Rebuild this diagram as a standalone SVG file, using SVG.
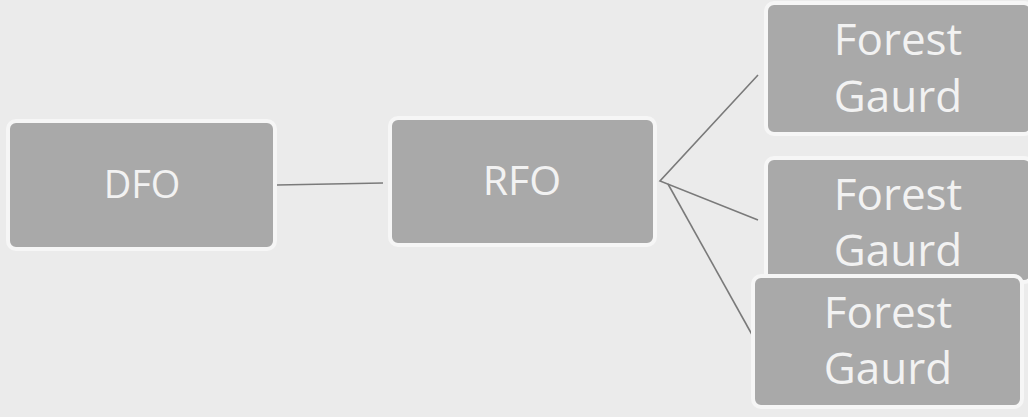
<svg xmlns="http://www.w3.org/2000/svg" width="1028" height="417" viewBox="0 0 1028 417">
<style>
.bg{fill:#ebebeb}
.box{fill:#a9a9a9;stroke:#f6f6f6;stroke-width:4}
.t{font-family:"Open Sans","Noto Sans",sans-serif;fill:#f2f2f2;text-anchor:middle}
.c{stroke:#7a7a7a;stroke-width:1.6;fill:none}
</style>
<rect class="bg" x="0" y="0" width="1028" height="417"/>
<g id="connectors">
<line class="c" x1="277" y1="185" x2="383" y2="183"/>
<polyline class="c" points="758,75 660,181 758,220"/>
<line class="c" x1="668" y1="184" x2="755" y2="340"/>
</g>
<g id="dfo">
<rect class="box" x="8" y="121" width="267" height="128" rx="8"/>
<text class="t" x="142" y="198" font-size="38">DFO</text>
</g>
<g id="rfo">
<rect class="box" x="390" y="118" width="265" height="127" rx="8"/>
<text class="t" x="522" y="195" font-size="41">RFO</text>
</g>
<g id="fg1">
<rect class="box" x="766" y="3" width="266" height="131" rx="8"/>
<text class="t" x="898" y="55" font-size="44">Forest</text>
<text class="t" x="898" y="112" font-size="44">Gaurd</text>
</g>
<g id="fg2">
<rect class="box" x="766" y="158" width="266" height="124" rx="8"/>
<text class="t" x="898" y="210" font-size="44">Forest</text>
<text class="t" x="898" y="266" font-size="44">Gaurd</text>
</g>
<g id="fg3">
<rect class="box" x="753" y="276" width="269" height="131" rx="8"/>
<text class="t" x="888" y="328" font-size="44">Forest</text>
<text class="t" x="888" y="384" font-size="44">Gaurd</text>
</g>
</svg>
